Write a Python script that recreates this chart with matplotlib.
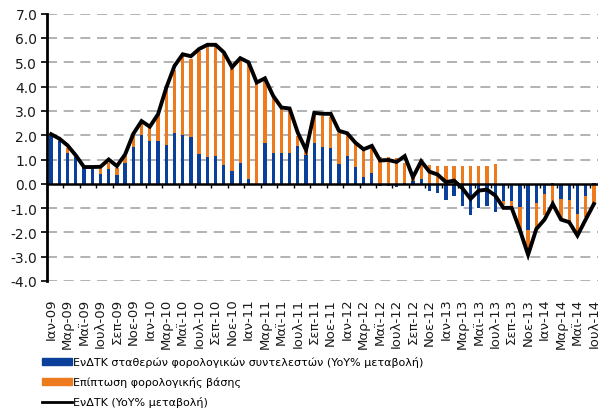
import numpy as np
import matplotlib
matplotlib.use('Agg')
import matplotlib.pyplot as plt
from matplotlib.patches import Patch
from matplotlib.lines import Line2D

# months Jan-09 .. Jul-14
monthNames = ['Ιαν', 'Φεβ', 'Μαρ', 'Απρ', 'Μαϊ', 'Ιουν',
              'Ιουλ', 'Αυγ', 'Σεπ', 'Οκτ', 'Νοε', 'Δεκ']
years = ['09', '10', '11', '12', '13', '14']
months = [m + '-' + y for y in years for m in monthNames][:67]

# HICP at constant tax rates (YoY %)
constTax = [1.97, 1.76, 1.25, 1.12, 0.70, 0.65, 0.39, 0.62, 0.37, 0.85, 1.52, 2.00,
            1.76, 1.76, 1.60, 2.08, 2.01, 1.94, 1.24, 1.10, 1.14, 0.77, 0.52, 0.85,
            0.18, 0.00, 1.69, 1.27, 1.27, 1.27, 1.56, 1.18, 1.69, 1.51, 1.46, 0.80,
            1.14, 0.70, 0.28, 0.43, -0.10, -0.10, -0.15, 0.02, 0.12, 0.20, -0.30, -0.37,
            -0.65, -0.50, -0.92, -1.30, -0.99, -0.92, -1.17, -0.72, -0.72, -0.95, -1.89, -0.81,
            -0.40, 0.05, -0.62, -0.65, -1.23, -0.51, 0.05]

# impact of tax changes
taxImpact = [0.03, 0.08, 0.24, 0.05, 0.00, 0.05, 0.31, 0.25, 0.29, 0.29, 0.45, 0.45,
             0.54, 1.06, 2.25, 2.62, 3.24, 3.21, 4.21, 4.58, 4.54, 4.58, 4.23, 4.27,
             4.75, 4.10, 2.56, 2.28, 1.83, 1.78, 0.41, 0.17, 1.16, 1.29, 1.29, 1.30,
             0.91, 0.93, 1.07, 1.07, 1.12, 1.12, 1.07, 0.85, 0.13, 0.73, 0.76, 0.73,
             0.72, 0.72, 0.72, 0.72, 0.72, 0.73, 0.80, -0.14, -0.23, -0.94, -0.96, -1.00,
             -0.90, -0.83, -0.85, -0.90, -0.87, -0.85, -0.83]

# HICP (YoY %)
hicp = [2.04, 1.86, 1.58, 1.17, 0.69, 0.69, 0.70, 1.00, 0.73, 1.21, 2.06, 2.58,
        2.35, 2.86, 3.95, 4.85, 5.33, 5.25, 5.55, 5.72, 5.72, 5.41, 4.80, 5.17,
        5.00, 4.17, 4.34, 3.62, 3.14, 3.10, 2.10, 1.39, 2.92, 2.88, 2.88, 2.18,
        2.08, 1.69, 1.42, 1.56, 0.96, 0.98, 0.90, 1.14, 0.27, 0.93, 0.50, 0.38,
        0.07, 0.13, -0.18, -0.62, -0.28, -0.24, -0.48, -0.99, -0.99, -1.90, -2.92, -1.86,
        -1.47, -0.83, -1.47, -1.58, -2.13, -1.47, -0.83]

blue = '#0a3f9a'
orange = '#ee7a1e'

plt.rcParams['font.family'] = ['DejaVu Sans']

fig = plt.figure(figsize=(6.06, 4.10), dpi=100)
ax = fig.add_axes([47/606, 1-282/410, 551/606, 267.3/410])

x = np.arange(len(months))
cb = np.array(constTax)
ti = np.array(taxImpact)
# stack orange on blue only when both have the same sign
bottom = np.where(np.sign(cb) == np.sign(ti), cb, 0)

ax.bar(x, cb, width=0.4, color=blue, zorder=2)
ax.bar(x, ti, width=0.4, bottom=bottom, color=orange, zorder=2)
ax.plot(x, hicp, color='black', lw=2.8, zorder=4, solid_joinstyle='miter')

ax.set_xlim(-0.5, len(months) - 0.5)
ax.set_ylim(-4, 7)
ax.set_yticks(np.arange(-4, 8))
ax.set_yticklabels(['%.1f' % v for v in np.arange(-4, 8)], fontsize=10, color='#1a1a1a')

# dashed horizontal grid, solid zero line
for v in np.arange(-4, 8):
    if v != 0:
        ax.axhline(v, color='#a6a6a6', lw=1.2, dashes=(6, 4), zorder=1)
ax.axhline(0, color='black', lw=1.8, zorder=3)
# small category tick marks on the zero line
ax.vlines(np.arange(1.5, len(months) - 1, 2), -0.17, 0, color='black', lw=1, zorder=3)

ax.set_xticks(x[::2])
ax.set_xticklabels(months[::2], rotation=90, fontsize=9.5, color='#1a1a1a')
ax.tick_params(axis='x', length=0, pad=12)
ax.tick_params(axis='y', length=4, width=1.2, direction='out', pad=3)

for s in ['top', 'right', 'bottom']:
    ax.spines[s].set_visible(False)
ax.spines['left'].set_linewidth(2)

handles = [Patch(color=blue), Patch(color=orange), Line2D([], [], color='black', lw=2)]
labels = ['ΕνΔΤΚ σταθερών φορολογικών συντελεστών (YoY% μεταβολή)',
          'Επίπτωση φορολογικής βάσης',
          'ΕνΔΤΚ (YoY% μεταβολή)']
fig.legend(handles, labels, loc='upper left', bbox_to_anchor=(42/606, 1-357/410),
           frameon=False, fontsize=8, handlelength=2.7, handleheight=0.6,
           handletextpad=0.1, labelspacing=0.82, borderpad=0, borderaxespad=0)

fig.savefig('out.png', dpi=100)
